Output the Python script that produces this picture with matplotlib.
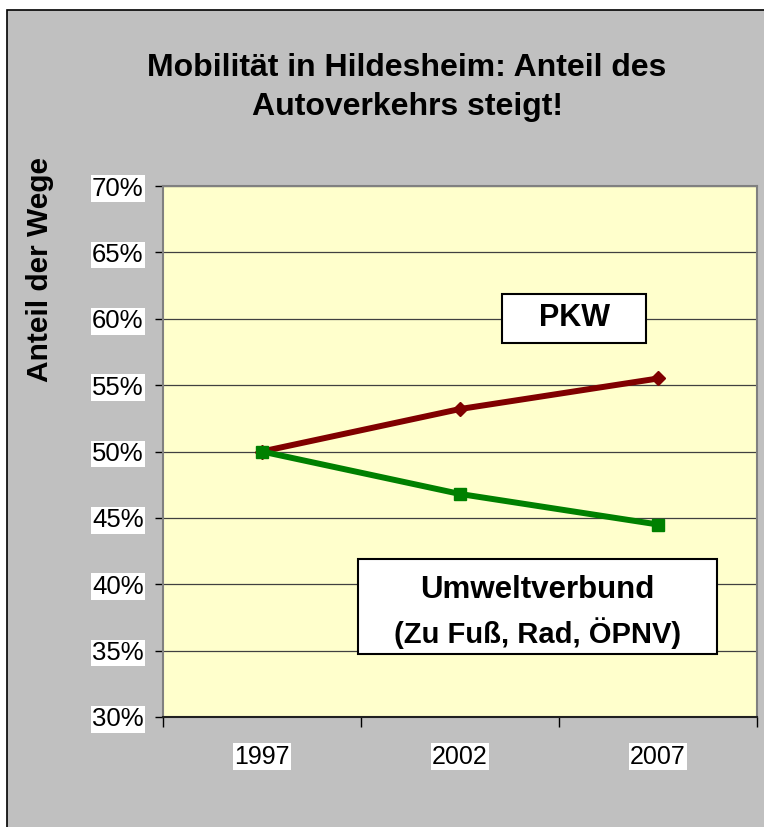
import matplotlib
matplotlib.use("Agg")
import matplotlib.pyplot as plt
from matplotlib.patches import Rectangle
from matplotlib.ticker import FixedLocator

plt.rcParams['font.family'] = ['Liberation Sans', 'DejaVu Sans']

# data
years = ["1997", "2002", "2007"]
pkw = [50.0, 53.2, 55.5]
umweltverbund = [50.0, 46.8, 44.5]
y_ticks = [30, 35, 40, 45, 50, 55, 60, 65, 70]

W, H = 764, 827
fig = plt.figure(figsize=(W / 100, H / 100), dpi=100)
fig.patch.set_facecolor("white")

# gray chart frame (black border left and top only visible)
frame = Rectangle((7 / W, -0.05), 1.1, 1.05 - 10 / H, transform=fig.transFigure,
                  facecolor="#C0C0C0", edgecolor="black", linewidth=1.2, zorder=-10)
fig.patches.append(frame)

ax = fig.add_axes([163 / W, 1 - 717 / H, (757 - 163) / W, (717 - 186) / H])
ax.set_zorder(5)
ax.set_facecolor("#FFFFCC")

x = list(range(len(years)))
ax.plot(x, pkw, color="#800000", linewidth=4.3, marker="D", markersize=7, zorder=3)
ax.plot(x, umweltverbund, color="#008000", linewidth=4.3, marker="s", markersize=8.5, zorder=4)

ax.set_xlim(-0.5, len(years) - 0.5)
ax.set_ylim(30, 70)

ax.set_yticks(y_ticks)
ax.set_yticklabels([f"{v}%" for v in y_ticks], fontsize=18.5,
                   bbox=dict(facecolor="white", edgecolor="none", pad=1))
ax.tick_params(axis="y", direction="out", length=6, width=1, pad=8, colors="black")
ax.yaxis.grid(True, color="#404040", linewidth=0.9)
ax.set_axisbelow(True)

ax.set_xticks(x)
ax.set_xticklabels(years, fontsize=18,
                   bbox=dict(facecolor="white", edgecolor="none", pad=1))
ax.tick_params(axis="x", which="major", length=0, pad=20)
ax.xaxis.set_minor_locator(FixedLocator([-0.5, 0.5, 1.5, 2.5]))
ax.tick_params(axis="x", which="minor", direction="out", length=7, width=1, color="black")

for side in ["left", "right", "top"]:
    ax.spines[side].set_color("#808080")
    ax.spines[side].set_linewidth(1.5)
ax.spines["bottom"].set_color("#202020")
ax.spines["bottom"].set_linewidth(1.5)

# label boxes
ax.add_patch(Rectangle((0.571, 0.704), 0.242, 0.093, transform=ax.transAxes,
                       facecolor="white", edgecolor="black", linewidth=1.5, zorder=5))
ax.text(0.692, 0.751, "PKW", transform=ax.transAxes, ha="center", va="center",
        fontsize=22, fontweight="bold", zorder=6)

ax.add_patch(Rectangle((0.328, 0.119), 0.605, 0.179, transform=ax.transAxes,
                       facecolor="white", edgecolor="black", linewidth=1.5, zorder=5))
ax.text(0.6305, 0.240, "Umweltverbund", transform=ax.transAxes, ha="center", va="center",
        fontsize=22.5, fontweight="bold", zorder=6)
ax.text(0.6305, 0.158, "(Zu Fuß, Rad, ÖPNV)", transform=ax.transAxes, ha="center", va="center",
        fontsize=21, fontweight="bold", zorder=6)

# title and axis label
fig.text(407 / W, 1 - 68 / H, "Mobilität in Hildesheim: Anteil des", ha="center", va="center",
         fontsize=23, fontweight="bold")
fig.text(407 / W, 1 - 107 / H, "Autoverkehrs steigt!", ha="center", va="center",
         fontsize=23, fontweight="bold")
fig.text(40 / W, 1 - 270 / H, "Anteil der Wege", rotation=90, ha="center", va="center",
         fontsize=21.5, fontweight="bold")

fig.savefig("out.png", dpi=100)
